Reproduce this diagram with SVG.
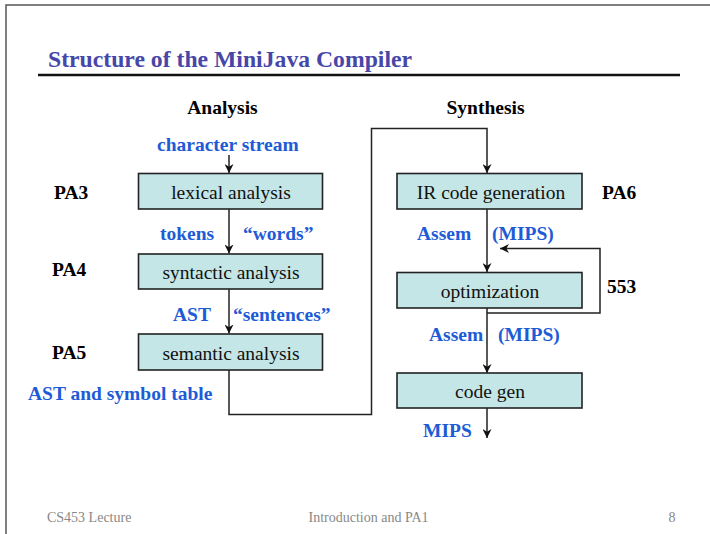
<svg xmlns="http://www.w3.org/2000/svg" width="710" height="534" viewBox="0 0 710 534">
<defs>
<marker id="ah" viewBox="0 0 10 10" refX="10" refY="5" markerWidth="9" markerHeight="9" markerUnits="userSpaceOnUse" orient="auto">
<path d="M0,0 L10,5 L0,10 L3,5 Z" fill="#111"/>
</marker>
<style>
.t{font-family:"Liberation Serif","Times New Roman",serif}
.title{font-size:23.7px;font-weight:bold;fill:#4747A8}
.hd{font-size:19.5px;font-weight:bold;fill:#000}
.bl{font-size:19.5px;font-weight:bold;fill:#1E5BD6}
.bx{font-size:19.5px;fill:#111}
.ft{font-size:14px;fill:#888}
.box{fill:#C4E6E7;stroke:#222;stroke-width:1.6}
.ln{fill:none;stroke:#222;stroke-width:1.5}
</style>
</defs>
<rect width="710" height="534" fill="#fff"/>
<path d="M6,534 V5 H710" fill="none" stroke="#555" stroke-width="1.5"/>
<text class="t title" x="48" y="67">Structure of the MiniJava Compiler</text>
<line x1="38" y1="75" x2="680" y2="75" stroke="#111" stroke-width="2.5"/>
<text class="t hd" x="222.5" y="114" text-anchor="middle">Analysis</text>
<text class="t hd" x="485.5" y="114" text-anchor="middle">Synthesis</text>

<g id="connectors">
<line class="ln" x1="229" y1="155" x2="229" y2="173" marker-end="url(#ah)"/>
<line class="ln" x1="229" y1="209" x2="229" y2="253.5" marker-end="url(#ah)"/>
<line class="ln" x1="229" y1="289" x2="229" y2="333.5" marker-end="url(#ah)"/>
<polyline class="ln" points="229,370 229,414.5 371.5,414.5 371.5,128.5 487,128.5 487,173" marker-end="url(#ah)"/>
<line class="ln" x1="487" y1="209" x2="487" y2="272" marker-end="url(#ah)"/>
<polyline class="ln" points="487,313 600,313 600,248.5 500,248.5" marker-end="url(#ah)"/>
<line class="ln" x1="487" y1="308" x2="487" y2="373" marker-end="url(#ah)"/>
<line class="ln" x1="487" y1="408" x2="487" y2="438" marker-end="url(#ah)"/>
</g>

<g id="lexical">
<rect class="box" x="138.5" y="173.5" width="184" height="35.5"/>
<text class="t bx" x="231" y="198.5" text-anchor="middle">lexical analysis</text>
</g>
<g id="syntactic">
<rect class="box" x="138.5" y="254" width="184" height="35"/>
<text class="t bx" x="231" y="279" text-anchor="middle">syntactic analysis</text>
</g>
<g id="semantic">
<rect class="box" x="138.5" y="334" width="184" height="36"/>
<text class="t bx" x="231" y="359.5" text-anchor="middle">semantic analysis</text>
</g>
<g id="irgen">
<rect class="box" x="397" y="173.5" width="185" height="35.5"/>
<text class="t bx" x="491" y="198.5" text-anchor="middle">IR code generation</text>
</g>
<g id="optimization">
<rect class="box" x="397" y="272.5" width="185" height="35.5"/>
<text class="t bx" x="490" y="298" text-anchor="middle">optimization</text>
</g>
<g id="codegen">
<rect class="box" x="397" y="373" width="185" height="35"/>
<text class="t bx" x="490" y="398" text-anchor="middle">code gen</text>
</g>

<g id="labels">
<text class="t bl" x="157" y="151">character stream</text>
<text class="t bl" x="160" y="240">tokens</text>
<text class="t bl" x="243" y="240">“words”</text>
<text class="t bl" x="173" y="321">AST</text>
<text class="t bl" x="233" y="321">“sentences”</text>
<text class="t bl" x="28" y="400">AST and symbol table</text>
<text class="t bl" x="417" y="239.5">Assem</text>
<text class="t bl" x="492" y="239.5">(MIPS)</text>
<text class="t bl" x="429" y="341">Assem</text>
<text class="t bl" x="498" y="341">(MIPS)</text>
<text class="t bl" x="423" y="437">MIPS</text>
<text class="t hd" x="54" y="198.5">PA3</text>
<text class="t hd" x="52" y="276">PA4</text>
<text class="t hd" x="52" y="359">PA5</text>
<text class="t hd" x="602" y="198.5">PA6</text>
<text class="t hd" x="607" y="293">553</text>
</g>

<text class="t ft" x="47" y="521.5">CS453 Lecture</text>
<text class="t ft" x="368.5" y="521.5" text-anchor="middle">Introduction and PA1</text>
<text class="t ft" x="672" y="521.5" text-anchor="middle">8</text>
</svg>
